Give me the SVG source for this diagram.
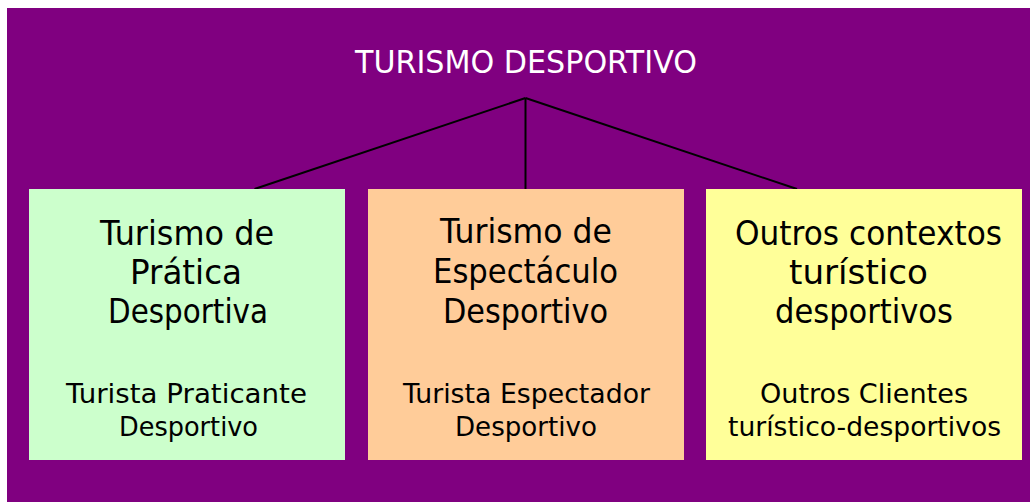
<svg xmlns="http://www.w3.org/2000/svg" width="1030" height="502" viewBox="0 0 1030 502">
<style>
.t{font-family:"DejaVu Sans","Liberation Sans",sans-serif;text-anchor:middle;fill:#000}
.h{font-size:33.5px}
.s{font-size:27px}
.c{stroke:#000;stroke-width:2;fill:none}
</style>
<rect x="0" y="0" width="1030" height="502" fill="#fff"/>
<rect x="7" y="8" width="1023" height="494" fill="#800080"/>
<g id="connectors">
<line class="c" x1="525.5" y1="98" x2="254.5" y2="189"/>
<line class="c" x1="525.5" y1="98" x2="525.5" y2="189"/>
<line class="c" x1="525.5" y1="98" x2="797" y2="189"/>
</g>
<g id="root">
<text class="t" x="526" y="73" font-size="32" style="fill:#fff" textLength="342" lengthAdjust="spacingAndGlyphs">TURISMO DESPORTIVO</text>
</g>
<g id="pratica">
<rect x="29" y="189" width="316" height="271" fill="#ccffcc"/>
<text class="t h" x="187" y="245" textLength="174" lengthAdjust="spacingAndGlyphs">Turismo de</text>
<text class="t h" x="186" y="284" textLength="112" lengthAdjust="spacingAndGlyphs">Prática</text>
<text class="t h" x="188" y="323" textLength="160" lengthAdjust="spacingAndGlyphs">Desportiva</text>
<text class="t s" x="186.5" y="403" textLength="241" lengthAdjust="spacingAndGlyphs">Turista Praticante</text>
<text class="t s" x="188.5" y="436" textLength="139" lengthAdjust="spacingAndGlyphs">Desportivo</text>
</g>
<g id="espectaculo">
<rect x="368" y="189" width="316" height="271" fill="#ffcc99"/>
<text class="t h" x="526" y="243" textLength="172" lengthAdjust="spacingAndGlyphs">Turismo de</text>
<text class="t h" x="525.5" y="283" textLength="185" lengthAdjust="spacingAndGlyphs">Espectáculo</text>
<text class="t h" x="525.5" y="323" textLength="165" lengthAdjust="spacingAndGlyphs">Desportivo</text>
<text class="t s" x="526.5" y="403" textLength="247" lengthAdjust="spacingAndGlyphs">Turista Espectador</text>
<text class="t s" x="526" y="436" textLength="142" lengthAdjust="spacingAndGlyphs">Desportivo</text>
</g>
<g id="outros">
<rect x="706" y="189" width="316" height="271" fill="#ffff99"/>
<text class="t h" x="868.5" y="245" textLength="267" lengthAdjust="spacingAndGlyphs">Outros contextos</text>
<text class="t h" x="858.5" y="284" textLength="139" lengthAdjust="spacingAndGlyphs">turístico</text>
<text class="t h" x="864" y="323" textLength="178" lengthAdjust="spacingAndGlyphs">desportivos</text>
<text class="t s" x="864" y="403" textLength="208" lengthAdjust="spacingAndGlyphs">Outros Clientes</text>
<text class="t s" x="864.5" y="436" textLength="273" lengthAdjust="spacingAndGlyphs">turístico-desportivos</text>
</g>
</svg>
